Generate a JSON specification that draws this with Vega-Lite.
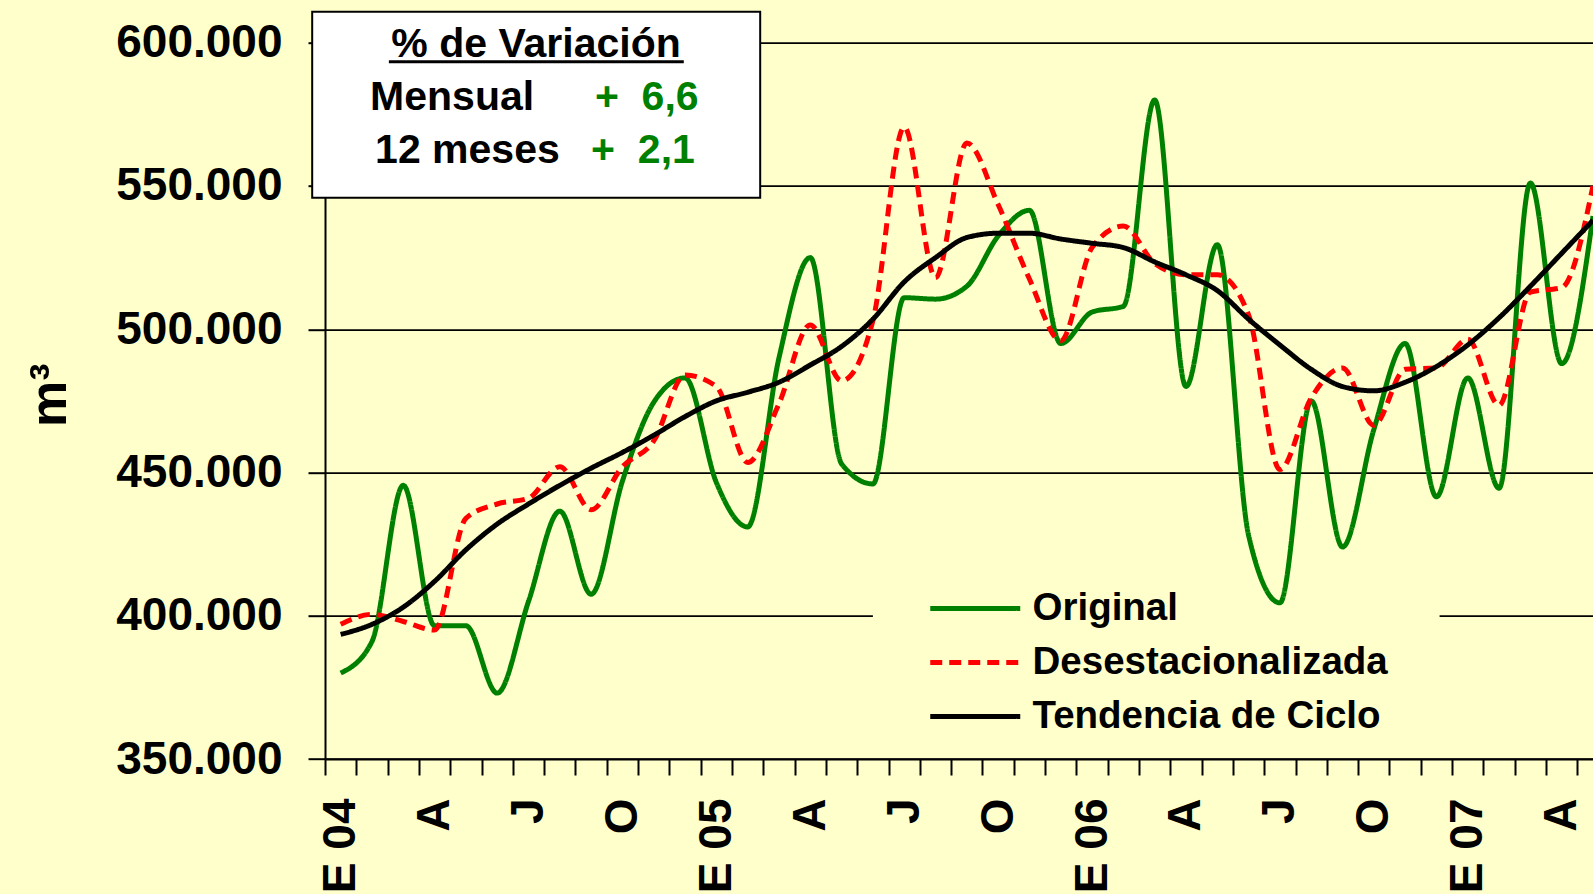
{
  "$schema": "https://vega.github.io/schema/vega-lite/v6.json",
  "autosize": {"type": "none"},
  "width": 1268,
  "height": 716.3,
  "padding": {"left": 325, "top": 42.7, "right": 0, "bottom": 135},
  "background": "#FFFFCC",
  "config": {
    "view": {"stroke": null},
    "font": "Liberation Sans",
    "legend": {
      "orient": "none", "legendX": 550, "legendY": 541.5,
      "title": null,
      "labelFont": "Liberation Sans", "labelFontSize": 38.5, "labelFontWeight": "bold", "labelColor": "#000000",
      "symbolType": "M-1,0H5", "symbolSize": 900, "symbolStrokeWidth": 5,
      "padding": 5, "rowPadding": 15, "labelOffset": 68, "symbolOffset": 46, "labelLimit": 0
    }
  },
  "data": {
    "values": [
      {"mes": "2004-01", "t": 0, "Original": 380000, "Desestacionalizada": 397000, "Tendencia de Ciclo": 393500},
      {"mes": "2004-02", "t": 1, "Original": 391000, "Desestacionalizada": 400500, "Tendencia de Ciclo": 397000},
      {"mes": "2004-03", "t": 2, "Original": 445500, "Desestacionalizada": 398000, "Tendencia de Ciclo": 403000},
      {"mes": "2004-04", "t": 3, "Original": 396500, "Desestacionalizada": 395000, "Tendencia de Ciclo": 412000},
      {"mes": "2004-05", "t": 4, "Original": 396500, "Desestacionalizada": 434000, "Tendencia de Ciclo": 423000},
      {"mes": "2004-06", "t": 5, "Original": 373000, "Desestacionalizada": 439000, "Tendencia de Ciclo": 432000},
      {"mes": "2004-07", "t": 6, "Original": 405000, "Desestacionalizada": 441000, "Tendencia de Ciclo": 439000},
      {"mes": "2004-08", "t": 7, "Original": 436500, "Desestacionalizada": 452000, "Tendencia de Ciclo": 445500},
      {"mes": "2004-09", "t": 8, "Original": 407500, "Desestacionalizada": 437000, "Tendencia de Ciclo": 451500},
      {"mes": "2004-10", "t": 9, "Original": 447000, "Desestacionalizada": 452000, "Tendencia de Ciclo": 457000},
      {"mes": "2004-11", "t": 10, "Original": 474500, "Desestacionalizada": 461000, "Tendencia de Ciclo": 463000},
      {"mes": "2004-12", "t": 11, "Original": 483000, "Desestacionalizada": 484000, "Tendencia de Ciclo": 469500},
      {"mes": "2005-01", "t": 12, "Original": 446500, "Desestacionalizada": 480000, "Tendencia de Ciclo": 475000},
      {"mes": "2005-02", "t": 13, "Original": 431000, "Desestacionalizada": 453500, "Tendencia de Ciclo": 478000},
      {"mes": "2005-03", "t": 14, "Original": 490000, "Desestacionalizada": 474000, "Tendencia de Ciclo": 481500},
      {"mes": "2005-04", "t": 15, "Original": 525000, "Desestacionalizada": 501500, "Tendencia de Ciclo": 487500},
      {"mes": "2005-05", "t": 16, "Original": 453000, "Desestacionalizada": 482000, "Tendencia de Ciclo": 494000},
      {"mes": "2005-06", "t": 17, "Original": 446000, "Desestacionalizada": 503000, "Tendencia de Ciclo": 503500},
      {"mes": "2005-07", "t": 18, "Original": 511000, "Desestacionalizada": 570500, "Tendencia de Ciclo": 516500},
      {"mes": "2005-08", "t": 19, "Original": 510500, "Desestacionalizada": 518000, "Tendencia de Ciclo": 525000},
      {"mes": "2005-09", "t": 20, "Original": 515000, "Desestacionalizada": 565000, "Tendencia de Ciclo": 532000},
      {"mes": "2005-10", "t": 21, "Original": 532500, "Desestacionalizada": 543500, "Tendencia de Ciclo": 533500},
      {"mes": "2005-11", "t": 22, "Original": 541500, "Desestacionalizada": 517500, "Tendencia de Ciclo": 533500},
      {"mes": "2005-12", "t": 23, "Original": 495000, "Desestacionalizada": 496000, "Tendencia de Ciclo": 531500},
      {"mes": "2006-01", "t": 24, "Original": 506000, "Desestacionalizada": 528500, "Tendencia de Ciclo": 530000},
      {"mes": "2006-02", "t": 25, "Original": 508000, "Desestacionalizada": 536000, "Tendencia de Ciclo": 528500},
      {"mes": "2006-03", "t": 26, "Original": 580000, "Desestacionalizada": 523000, "Tendencia de Ciclo": 523500},
      {"mes": "2006-04", "t": 27, "Original": 480000, "Desestacionalizada": 519000, "Tendencia de Ciclo": 519000},
      {"mes": "2006-05", "t": 28, "Original": 529500, "Desestacionalizada": 519000, "Tendencia de Ciclo": 513500},
      {"mes": "2006-06", "t": 29, "Original": 428000, "Desestacionalizada": 505000, "Tendencia de Ciclo": 503500},
      {"mes": "2006-07", "t": 30, "Original": 404500, "Desestacionalizada": 451000, "Tendencia de Ciclo": 494500},
      {"mes": "2006-08", "t": 31, "Original": 475000, "Desestacionalizada": 476000, "Tendencia de Ciclo": 486000},
      {"mes": "2006-09", "t": 32, "Original": 424000, "Desestacionalizada": 486500, "Tendencia de Ciclo": 480000},
      {"mes": "2006-10", "t": 33, "Original": 465000, "Desestacionalizada": 466500, "Tendencia de Ciclo": 478500},
      {"mes": "2006-11", "t": 34, "Original": 495000, "Desestacionalizada": 486000, "Tendencia de Ciclo": 481500},
      {"mes": "2006-12", "t": 35, "Original": 441500, "Desestacionalizada": 486500, "Tendencia de Ciclo": 487000},
      {"mes": "2007-01", "t": 36, "Original": 483000, "Desestacionalizada": 496500, "Tendencia de Ciclo": 494500},
      {"mes": "2007-02", "t": 37, "Original": 444500, "Desestacionalizada": 473500, "Tendencia de Ciclo": 504000},
      {"mes": "2007-03", "t": 38, "Original": 551000, "Desestacionalizada": 513000, "Tendencia de Ciclo": 515000},
      {"mes": "2007-04", "t": 39, "Original": 488000, "Desestacionalizada": 514500, "Tendencia de Ciclo": 526500},
      {"mes": "2007-05", "t": 40, "Original": 539500, "Desestacionalizada": 550000, "Tendencia de Ciclo": 538000}
    ]
  },
  "resolve": {"axis": {"x": "independent", "y": "independent"}},
  "layer": [
    {
      "data": {"values": [{}]},
      "mark": {"type": "rect", "fill": "#FFFFFF", "stroke": "#000000", "strokeWidth": 2},
      "encoding": {
        "x": {"datum": -0.909, "type": "quantitative",
              "scale": {"domain": [-0.5, 40], "nice": false, "zero": false},
              "axis": {"orient": "bottom", "values": [-0.5,0.5,1.5,2.5,3.5,4.5,5.5,6.5,7.5,8.5,9.5,10.5,11.5,12.5,13.5,14.5,15.5,16.5,17.5,18.5,19.5,20.5,21.5,22.5,23.5,24.5,25.5,26.5,27.5,28.5,29.5,30.5,31.5,32.5,33.5,34.5,35.5,36.5,37.5,38.5,39.5],
                       "labels": false, "ticks": true, "tickSize": 16, "tickWidth": 2, "tickColor": "#000000",
                       "domain": true, "domainColor": "#000000", "domainWidth": 2, "grid": false, "title": null, "zindex": 0}},
        "x2": {"datum": 13.40},
        "y": {"datum": 610825, "type": "quantitative",
              "scale": {"domain": [350000, 600000], "nice": false, "zero": false},
              "axis": {"orient": "left", "values": [350000, 400000, 450000, 500000, 550000, 600000],
                       "labelExpr": "replace(format(datum.value, ','), ',', '.')",
                       "labelFont": "Liberation Sans", "labelFontSize": 46, "labelFontWeight": "bold", "labelColor": "#000000",
                       "labelPadding": 26, "tickSize": 17, "tickWidth": 2, "tickColor": "#000000",
                       "domain": true, "domainColor": "#000000", "domainWidth": 2,
                       "grid": true, "gridColor": "#000000", "gridWidth": 1.7, "gridOpacity": 1,
                       "title": "m³", "titleFont": "Liberation Sans", "titleFontSize": 52, "titleFontWeight": "bold", "titleColor": "#000000",
                       "titleAngle": 270, "titleX": -260, "titleY": 352, "titleAlign": "center", "titleBaseline": "alphabetic", "zindex": 0}},
        "y2": {"datum": 545874}
      }
    },
    {
      "data": {"values": [{}]},
      "mark": {"type": "rect", "fill": "#FFFFCC", "strokeWidth": 0},
      "encoding": {
        "x": {"datum": 17.0, "type": "quantitative", "scale": {"domain": [-0.5, 40], "nice": false, "zero": false}, "axis": null},
        "x2": {"datum": 35.1},
        "y": {"datum": 404000, "type": "quantitative", "scale": {"domain": [350000, 600000], "nice": false, "zero": false}, "axis": null},
        "y2": {"datum": 356000}
      }
    },
    {
      "transform": [{"fold": ["Original", "Desestacionalizada", "Tendencia de Ciclo"], "as": ["serie", "valor"]}],
      "mark": {"type": "line", "interpolate": "monotone", "strokeWidth": 5, "strokeJoin": "round"},
      "encoding": {
        "x": {"field": "t", "type": "quantitative",
              "scale": {"domain": [-0.5, 40], "nice": false, "zero": false},
              "axis": {"orient": "bottom", "values": [0, 3, 6, 9, 12, 15, 18, 21, 24, 27, 30, 33, 36, 39],
                       "labelExpr": "datum.value % 12 == 0 ? 'E 0' + (4 + datum.value / 12) : (datum.value % 12 == 3 ? 'A' : (datum.value % 12 == 6 ? 'J' : 'O'))",
                       "ticks": false, "tickSize": 0, "domain": false, "grid": false, "title": null,
                       "labelAngle": 270, "labelAlign": "right", "labelBaseline": "middle", "labelPadding": 39,
                       "labelFont": "Liberation Sans", "labelFontSize": 46, "labelFontWeight": "bold", "labelColor": "#000000",
                       "labelOverlap": false, "labelFlush": false, "labelBound": false, "zindex": 0}},
        "y": {"field": "valor", "type": "quantitative",
              "scale": {"domain": [350000, 600000], "nice": false, "zero": false},
              "axis": null},
        "color": {"field": "serie", "type": "nominal",
                  "scale": {"domain": ["Original", "Desestacionalizada", "Tendencia de Ciclo"], "range": ["#008000", "#FF0000", "#000000"]}},
        "strokeDash": {"field": "serie", "type": "nominal",
                  "scale": {"domain": ["Original", "Desestacionalizada", "Tendencia de Ciclo"], "range": [[1, 0], [12, 7], [1, 0]]}}
      }
    },
    {
      "data": {"values": [{}]},
      "mark": {"type": "rule", "stroke": "#000000", "strokeWidth": 3},
      "encoding": {
        "x": {"datum": 1.54, "type": "quantitative", "scale": {"domain": [-0.5, 40], "nice": false, "zero": false}, "axis": null},
        "x2": {"datum": 10.96},
        "y": {"datum": 593365, "type": "quantitative", "scale": {"domain": [350000, 600000], "nice": false, "zero": false}, "axis": null}
      }
    },
    {
      "data": {"values": [{}]},
      "mark": {"type": "text", "text": "% de Variación", "font": "Liberation Sans", "fontSize": 41, "fontWeight": "bold", "color": "#000000", "align": "center", "baseline": "alphabetic"},
      "encoding": {
        "x": {"datum": 6.24, "type": "quantitative", "scale": {"domain": [-0.5, 40], "nice": false, "zero": false}, "axis": null},
        "y": {"datum": 595000, "type": "quantitative", "scale": {"domain": [350000, 600000], "nice": false, "zero": false}, "axis": null}
      }
    },
    {
      "data": {"values": [{}]},
      "mark": {"type": "text", "text": "Mensual", "font": "Liberation Sans", "fontSize": 41, "fontWeight": "bold", "color": "#000000", "align": "left", "baseline": "alphabetic"},
      "encoding": {
        "x": {"datum": 0.94, "type": "quantitative", "scale": {"domain": [-0.5, 40], "nice": false, "zero": false}, "axis": null},
        "y": {"datum": 576500, "type": "quantitative", "scale": {"domain": [350000, 600000], "nice": false, "zero": false}, "axis": null}
      }
    },
    {
      "data": {"values": [{}]},
      "mark": {"type": "text", "text": "+\u00a0\u00a06,6", "font": "Liberation Sans", "fontSize": 41, "fontWeight": "bold", "color": "#008000", "align": "left", "baseline": "alphabetic"},
      "encoding": {
        "x": {"datum": 8.12, "type": "quantitative", "scale": {"domain": [-0.5, 40], "nice": false, "zero": false}, "axis": null},
        "y": {"datum": 576500, "type": "quantitative", "scale": {"domain": [350000, 600000], "nice": false, "zero": false}, "axis": null}
      }
    },
    {
      "data": {"values": [{}]},
      "mark": {"type": "text", "text": "12 meses", "font": "Liberation Sans", "fontSize": 41, "fontWeight": "bold", "color": "#000000", "align": "left", "baseline": "alphabetic"},
      "encoding": {
        "x": {"datum": 1.10, "type": "quantitative", "scale": {"domain": [-0.5, 40], "nice": false, "zero": false}, "axis": null},
        "y": {"datum": 558000, "type": "quantitative", "scale": {"domain": [350000, 600000], "nice": false, "zero": false}, "axis": null}
      }
    },
    {
      "data": {"values": [{}]},
      "mark": {"type": "text", "text": "+\u00a0\u00a02,1", "font": "Liberation Sans", "fontSize": 41, "fontWeight": "bold", "color": "#008000", "align": "left", "baseline": "alphabetic"},
      "encoding": {
        "x": {"datum": 8.0, "type": "quantitative", "scale": {"domain": [-0.5, 40], "nice": false, "zero": false}, "axis": null},
        "y": {"datum": 558000, "type": "quantitative", "scale": {"domain": [350000, 600000], "nice": false, "zero": false}, "axis": null}
      }
    }
  ]
}
